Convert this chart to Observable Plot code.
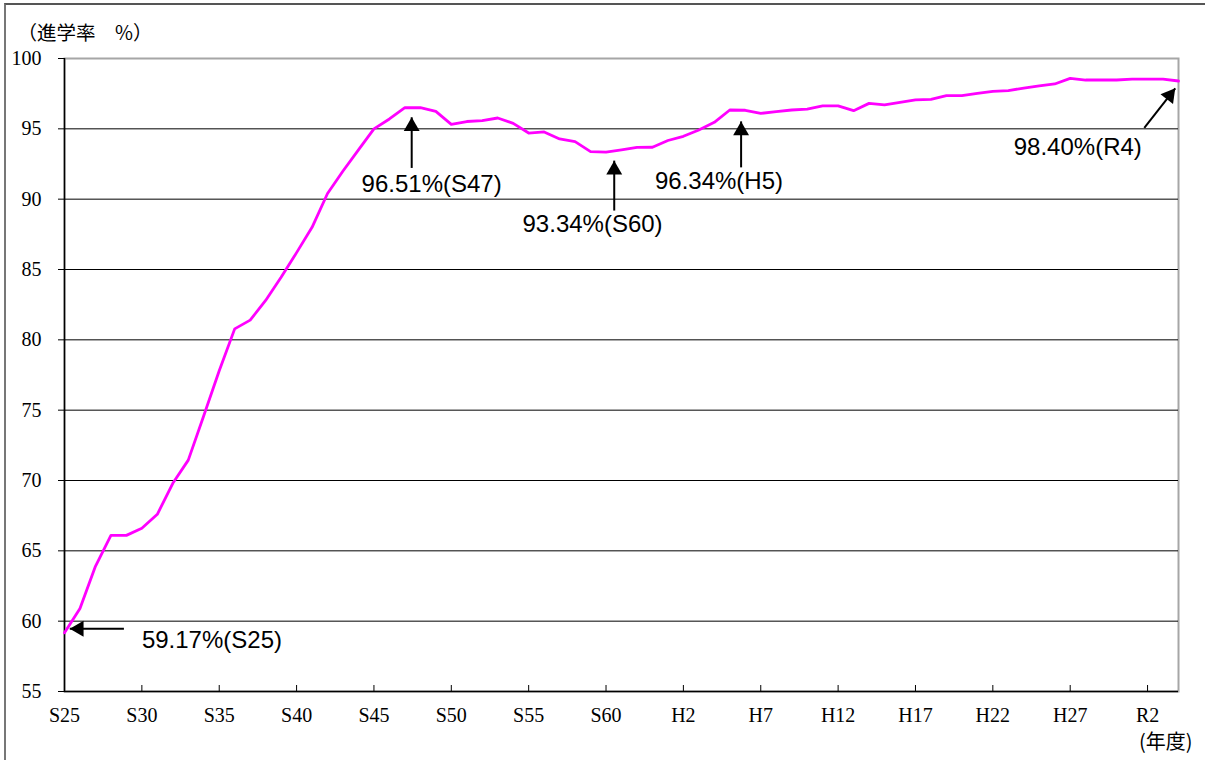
<!DOCTYPE html>
<html>
<head>
<meta charset="utf-8">
<script src="https://cdn.jsdelivr.net/npm/d3@7"></script>
<script src="https://cdn.jsdelivr.net/npm/@observablehq/plot@0.6"></script>
<style>
  html, body { margin: 0; padding: 0; background: #fff; }
  #wrap { position: relative; width: 1205px; height: 760px; overflow: hidden; }
  #outer { position: absolute; left: 4px; top: 3px; width: 1400px; height: 900px; border-left: 2px solid #777; border-top: 2px solid #555; pointer-events: none; }
</style>
</head>
<body>
<div id="wrap"><div id="chart"></div><div id="outer"></div></div>
<script>
// Data: high-school enrolment rate (%) by fiscal year
const years = d3.range(1950, 2023);
const rates = [
  59.17, 60.9, 63.9, 66.1, 66.1, 66.6, 67.6, 69.8, 71.45, 74.6,
  77.8, 80.78, 81.4, 82.8, 84.45, 86.2, 88.0, 90.4, 92.0, 93.5,
  95.0, 95.7, 96.51, 96.5, 96.24, 95.32, 95.52, 95.58, 95.77, 95.39,
  94.7, 94.78, 94.28, 94.09, 93.38, 93.34, 93.5, 93.68, 93.69, 94.17,
  94.47, 94.92, 95.46, 96.34, 96.32, 96.1, 96.22, 96.34, 96.4, 96.63,
  96.63, 96.29, 96.81, 96.7, 96.88, 97.06, 97.1, 97.36, 97.36, 97.52,
  97.67, 97.71, 97.9, 98.05, 98.19, 98.59, 98.47, 98.47, 98.47, 98.54,
  98.54, 98.54, 98.40
];
const tickYears = [1950, 1955, 1960, 1965, 1970, 1975, 1980, 1985, 1990, 1995, 2000, 2005, 2010, 2015, 2020];
const tickLabels = ["S25", "S30", "S35", "S40", "S45", "S50", "S55", "S60", "H2", "H7", "H12", "H17", "H22", "H27", "R2"];
const yTicks = [55, 60, 65, 70, 75, 80, 85, 90, 95, 100];

// Annotations
const annoText = ["59.17%(S25)", "96.51%(S47)", "93.34%(S60)", "96.34%(H5)", "98.40%(R4)"];
const annoTextX = [1959.53, 1973.73, 1984.13, 1992.30, 2015.49];
const annoTextY = [58.65, 91.08, 88.21, 91.25, 93.68];
const arrowTailX = [1953.84, 1972.44, 1985.53, 1993.73, 2019.79];
const arrowTailY = [59.46, 92.22, 89.19, 92.26, 95.06];
const arrowTipX = [1950.34, 1972.44, 1985.53, 1993.73, 2021.79];
const arrowTipY = [59.46, 95.82, 92.74, 95.53, 97.88];

const series = years.map((y, i) => ({year: y, rate: rates[i]}));
const labels = annoText.map((t, i) => ({text: t, x: annoTextX[i], y: annoTextY[i]}));
const arrows = annoText.map((t, i) => ({x1: arrowTailX[i], y1: arrowTailY[i], x2: arrowTipX[i], y2: arrowTipY[i]}));

const W = 1205, H = 760, mL = 64, mR = 27, mT = 58, mB = 69;
const innerH = H - mT - mB;
const headR = 5.9, headD = 9.2;
const diagA = 38 * Math.PI / 180;

const chart = Plot.plot({
  width: W,
  height: H,
  marginLeft: mL,
  marginRight: mR,
  marginTop: mT,
  marginBottom: mB,
  style: {background: "#fff", color: "#000", fontFamily: "'Liberation Serif', serif"},
  x: {domain: [1950, 2022], axis: null},
  y: {domain: [55, 100], axis: null},
  marks: [
    Plot.frame({stroke: "#a6a6a6", strokeWidth: 2}),
    Plot.ruleY(yTicks.filter(d => d > 55 && d < 100), {stroke: "#000", strokeWidth: 1}),
    Plot.axisY({ticks: yTicks, tickSize: 6, tickPadding: 17, fontSize: 20, fontFamily: "'Liberation Serif', serif", stroke: "#000", label: null}),
    Plot.axisX({ticks: tickYears, tickFormat: d => tickLabels[tickYears.indexOf(d)], tickSize: 0, tickPadding: 16, fontSize: 20, fontFamily: "'Liberation Serif', serif", label: null}),
    Plot.ruleX(tickYears.slice(1), {x: d => d, insetTop: innerH - 6, stroke: "#000", strokeWidth: 1}),
    Plot.ruleX([1950], {stroke: "#000", strokeWidth: 1.5}),
    Plot.ruleY([55], {stroke: "#000", strokeWidth: 1.5}),
    Plot.line(series, {x: "year", y: "rate", stroke: "#ff00ff", strokeWidth: 2.8, strokeLinejoin: "round"}),
    Plot.link(arrows, {x1: "x1", y1: "y1", x2: "x2", y2: "y2", stroke: "#000", strokeWidth: 2}),
    Plot.dot(arrows.slice(0, 1), {x: "x2", y: "y2", symbol: "triangle", r: headR, fill: "#000", rotate: -90, dx: headD}),
    Plot.dot(arrows.slice(1, 4), {x: "x2", y: "y2", symbol: "triangle", r: headR, fill: "#000", dy: headD}),
    Plot.dot(arrows.slice(4), {x: "x2", y: "y2", symbol: "triangle", r: headR, fill: "#000", rotate: 38, dx: -headD * Math.sin(diagA), dy: headD * Math.cos(diagA)}),
    Plot.text(labels, {x: "x", y: "y", text: "text", fontSize: 24, fontFamily: "'Liberation Sans', Arial, sans-serif", fill: "#000", textAnchor: "middle", lineAnchor: "middle", style: "letter-spacing:-0.4px"}),
    Plot.text(["（進学率　%）"], {frameAnchor: "top-left", text: d => d, dx: -47, dy: -25, textAnchor: "start", lineAnchor: "middle", fontSize: 19.5, fontFamily: "'Noto Sans CJK JP', sans-serif", fill: "#000"}),
    Plot.text(["(年度)"], {frameAnchor: "bottom-right", text: d => d, dx: 14, dy: 51, textAnchor: "end", lineAnchor: "middle", fontSize: 20, fontFamily: "'Noto Sans CJK JP', sans-serif", fill: "#000"})
  ]
});
document.getElementById("chart").appendChild(chart);
</script>
</body>
</html>
